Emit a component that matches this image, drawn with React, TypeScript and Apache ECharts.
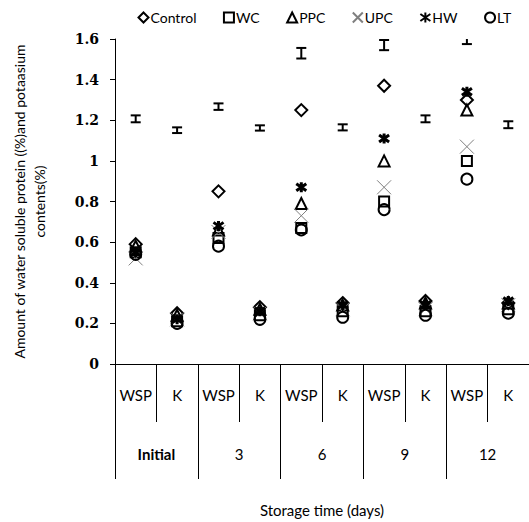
import React, { useEffect, useRef } from "react";
import * as echarts from "echarts";

const categories = ["WSP", "K", "WSP", "K", "WSP", "K", "WSP", "K", "WSP", "K"];
const groups = ["Initial", "3", "6", "9", "12"];
const yTicks = { min: 0, max: 1.6, interval: 0.2 };

const controlVals = [0.59, 0.25, 0.85, 0.28, 1.25, 0.3, 1.37, 0.31, 1.3, 0.3];
const wcVals = [0.55, 0.21, 0.62, 0.24, 0.67, 0.26, 0.8, 0.26, 1.0, 0.27];
const ppcVals = [0.58, 0.24, 0.66, 0.27, 0.79, 0.29, 1.0, 0.3, 1.25, 0.3];
const upcVals = [0.52, 0.22, 0.65, 0.25, 0.73, 0.27, 0.87, 0.27, 1.07, 0.29];
const hwVals = [0.55, 0.22, 0.68, 0.26, 0.87, 0.29, 1.11, 0.29, 1.34, 0.31];
const ltVals = [0.54, 0.2, 0.58, 0.22, 0.66, 0.23, 0.76, 0.24, 0.91, 0.25];

const errCenter = [1.207, 1.151, 1.267, 1.162, 1.53, 1.165, 1.57, 1.207, 1.605, 1.178];
const errHalf = [0.017, 0.014, 0.016, 0.013, 0.026, 0.015, 0.025, 0.017, 0.03, 0.017];

const X_PATH = "path://M0,0L10,10M10,0L0,10";
const STAR_PATH = "path://M5,0L5,10M0,1.5L10,8.5M10,1.5L0,8.5";

export default function App() {
  const ref = useRef<HTMLDivElement>(null);
  useEffect(() => {
    if (!ref.current) return;
    const chart = echarts.init(ref.current, null, { renderer: "svg" });
    const hollow = (w: number, c = "#000") => ({ color: "none", borderColor: c, borderWidth: w, opacity: 1 });
    const mk = (name: string, vals: number[], symbol: string, size: number, style: any) => ({
      name,
      type: "scatter",
      data: vals,
      symbol,
      symbolSize: size,
      itemStyle: style,
      z: 3,
    });
    chart.setOption({
      animation: false,
      backgroundColor: "#fff",
      textStyle: { fontFamily: "Lato" },
      grid: { left: 115, top: 39, bottom: 155, right: -6 },
      legend: {
        top: 5,
        left: 131,
        width: 399,
        itemWidth: 10,
        itemHeight: 10,
        itemGap: 25,
        textStyle: { fontFamily: "Lato", fontSize: 14, color: "#000", padding: [0, 0, 0, -3] },
        data: ["Control", "WC", "PPC", "UPC", "HW", "LT"],
      },
      xAxis: [
        {
          type: "category",
          data: categories,
          boundaryGap: true,
          axisLine: { lineStyle: { color: "#000", width: 1 } },
          axisTick: { show: true, interval: 0, length: 58, lineStyle: { color: "#000" } },
          axisLabel: { interval: 0, margin: 23, fontFamily: "Lato", fontSize: 15, color: "#000" },
          name: "Storage time (days)",
          nameLocation: "middle",
          nameGap: 138,
          nameTextStyle: { fontFamily: "Lato", fontSize: 15, color: "#000" },
        },
        {
          type: "category",
          data: groups,
          position: "bottom",
          boundaryGap: true,
          axisLine: { show: false },
          axisTick: { show: true, interval: 0, length: 115, lineStyle: { color: "#000" } },
          axisLabel: {
            interval: 0,
            margin: 82,
            fontFamily: "Lato",
            fontSize: 15,
            color: "#000",
            formatter: (v: string) => (v === "Initial" ? "{b|" + v + "}" : v),
            rich: { b: { fontWeight: "bold", fontFamily: "Lato", fontSize: 15, color: "#000" } },
          },
        },
      ],
      yAxis: {
        type: "value",
        min: yTicks.min,
        max: yTicks.max,
        interval: yTicks.interval,
        splitLine: { show: false },
        axisLine: { show: true, lineStyle: { color: "#000" } },
        axisTick: { show: true, length: 5, lineStyle: { color: "#000" } },
        axisLabel: { margin: 16, fontFamily: "DejaVu Serif", fontWeight: "bold", fontSize: 14, color: "#000" },
        name: "Amount of water soluble protein ((%)and potaasium\ncontents(%)",
        nameLocation: "middle",
        nameGap: 66,
        nameTextStyle: { fontFamily: "Lato", fontSize: 14, color: "#000", lineHeight: 20 },
      },
      series: [
        {
          type: "custom",
          name: "err",
          clip: true,
          data: errCenter.map((c, i) => [i, c - errHalf[i], c + errHalf[i]]),
          renderItem: (params: any, api: any) => {
            const lo = api.coord([api.value(0), api.value(1)]);
            const hi = api.coord([api.value(0), api.value(2)]);
            const hw = 5;
            const st = { stroke: "#000", lineWidth: 2 };
            return {
              type: "group",
              children: [
                { type: "line", shape: { x1: lo[0], y1: lo[1], x2: hi[0], y2: hi[1] }, style: st },
                { type: "line", shape: { x1: lo[0] - hw, y1: lo[1], x2: lo[0] + hw, y2: lo[1] }, style: st },
                { type: "line", shape: { x1: hi[0] - hw, y1: hi[1], x2: hi[0] + hw, y2: hi[1] }, style: st },
              ],
            };
          },
          z: 2,
        },
        mk("Control", controlVals, "diamond", 12, hollow(2)),
        mk("WC", wcVals, "rect", 10, hollow(2)),
        mk("PPC", ppcVals, "triangle", 11, hollow(2)),
        mk("UPC", upcVals, X_PATH, 14, hollow(1, "#808080")),
        mk("HW", hwVals, STAR_PATH, 10, hollow(3)),
        mk("LT", ltVals, "circle", 11, hollow(2)),
      ],
    });
    return () => chart.dispose();
  }, []);
  return <div ref={ref} style={{ position: "absolute", left: 0, top: 0, width: 529, height: 522 }} />;
}
